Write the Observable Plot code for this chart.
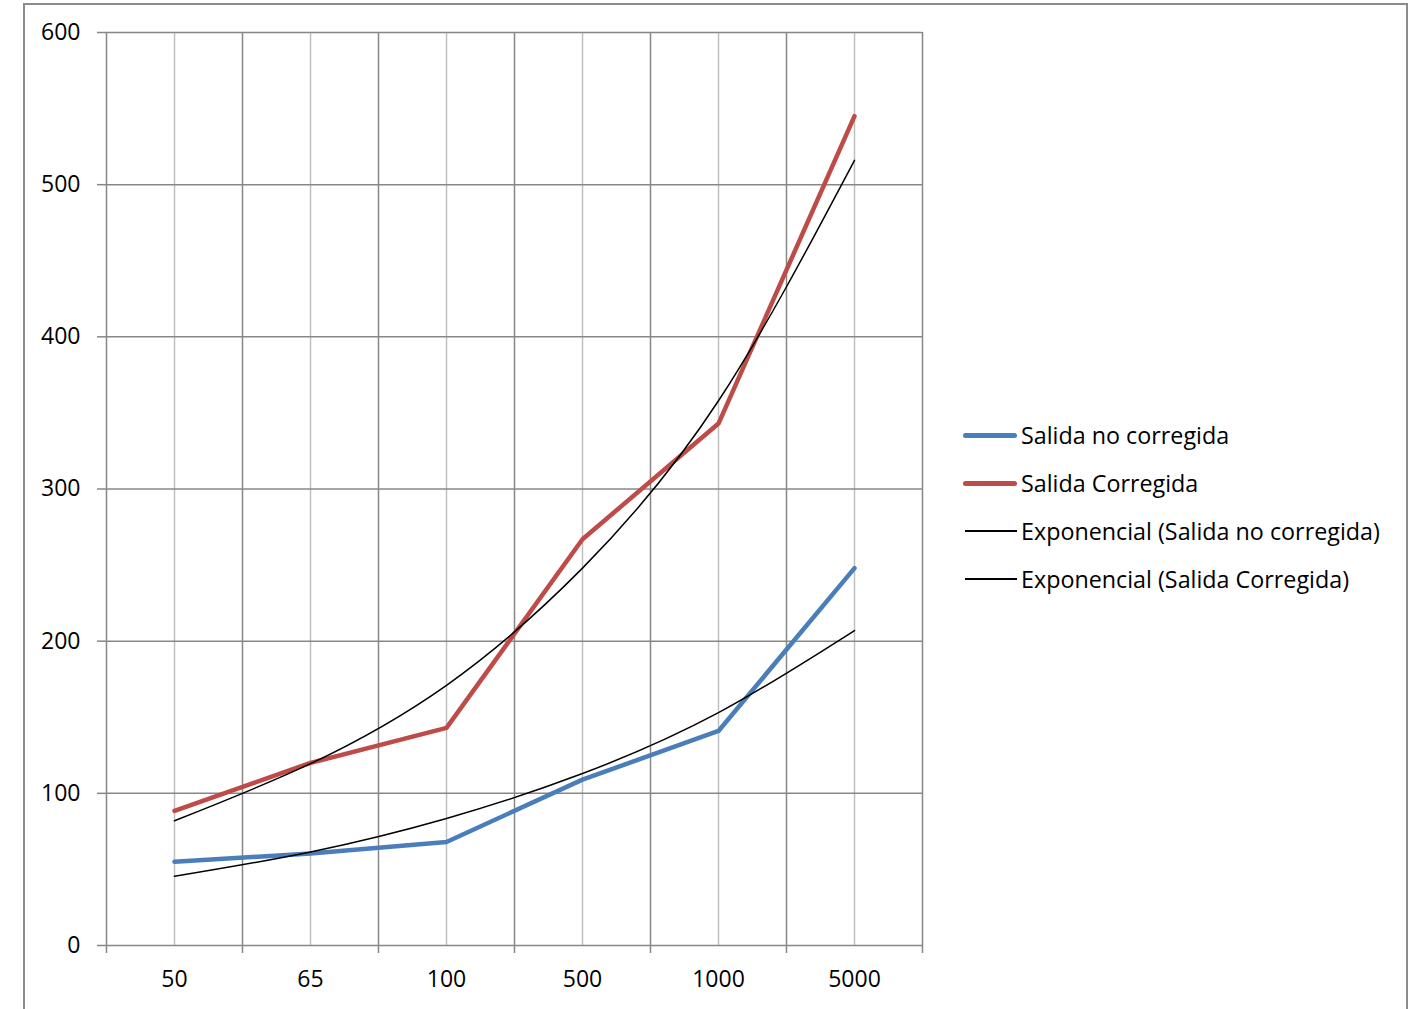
<!DOCTYPE html>
<html>
<head>
<meta charset="utf-8">
<script src="https://cdn.jsdelivr.net/npm/d3@7"></script>
<script src="https://cdn.jsdelivr.net/npm/@observablehq/plot@0.6"></script>
<style>
  html, body { margin: 0; padding: 0; background: #fff; overflow: hidden; }
  #wrap { position: relative; width: 1415px; height: 1009px; font-family: "Open Sans", sans-serif; }
  #frame { position: absolute; left: 23px; top: 3px; width: 1385px; height: 1100px; border: 2px solid #8c8c8c; box-sizing: border-box; }
  #chart { position: absolute; left: 0; top: 0; }
  #legend { position: absolute; left: 963px; top: 0; }
  .item { position: absolute; left: 0; height: 30px; white-space: nowrap; font-size: 23.3px; color: #000; }
  .sw { position: absolute; left: 0; width: 54px; }
  .lbl { position: absolute; left: 58px; top: 0; line-height: 30px; }
</style>
</head>
<body>
<div id="wrap">
  <div id="frame"></div>
  <div id="chart"></div>
  <div id="legend"></div>
</div>
<script>
const categories = ["50", "65", "100", "500", "1000", "5000"];
const salidaNoCorregida = [55, 60.5, 68, 109, 141, 248];
const salidaCorregida = [88.5, 120, 143, 267, 343, 545];
const expNoCorregida = [45.5, 61.5, 83.5, 113, 153, 207];
const expCorregida = [82, 119.5, 171, 248, 358, 516];
const yTicks = [0, 100, 200, 300, 400, 500, 600];

const seriesNames = ["Salida no corregida", "Salida Corregida", "Exponencial (Salida no corregida)", "Exponencial (Salida Corregida)"];
const colors = ["#4a7ebb", "#be4b48", "#000000", "#000000"];

const idx = categories.map((c, i) => i);
const boundaries = d3.range(categories.length + 1).map(i => i - 0.5);
const rows = (vals) => vals.map((v, i) => ({i, v}));

const font = "'Open Sans', sans-serif";

const chart = Plot.plot({
  width: 1415,
  height: 1009,
  marginLeft: 106,
  marginRight: 493,
  marginTop: 32,
  marginBottom: 64,
  style: {fontFamily: font, fontSize: "23px", color: "#000", background: "transparent", overflow: "visible"},
  x: {domain: [-0.5, categories.length - 0.5]},
  y: {domain: [0, 600]},
  marks: [
    Plot.gridX(idx, {stroke: "#c0c0c0", strokeOpacity: 1, strokeWidth: 1.5}),
    Plot.gridX(boundaries, {stroke: "#878787", strokeOpacity: 1, strokeWidth: 1.5}),
    Plot.gridY(yTicks, {stroke: "#878787", strokeOpacity: 1, strokeWidth: 1.5}),
    Plot.axisY({ticks: yTicks, tickSize: 9, tickPadding: 17, stroke: "#878787", strokeWidth: 1.5, label: null, fill: "#000"}),
    Plot.axisX({ticks: boundaries, tickSize: 8, tickFormat: () => "", stroke: "#878787", strokeWidth: 1.5, label: null}),
    Plot.axisX({ticks: idx, tickSize: 0, tickPadding: 25, tickFormat: i => categories[i], label: null, fill: "#000"}),
    Plot.line(rows(salidaNoCorregida), {x: "i", y: "v", stroke: colors[0], strokeWidth: 4.5, strokeLinejoin: "round", strokeLinecap: "round"}),
    Plot.line(rows(salidaCorregida), {x: "i", y: "v", stroke: colors[1], strokeWidth: 4.5, strokeLinejoin: "round", strokeLinecap: "round"}),
    Plot.line(rows(expNoCorregida), {x: "i", y: "v", stroke: colors[2], strokeWidth: 1.5, curve: "natural"}),
    Plot.line(rows(expCorregida), {x: "i", y: "v", stroke: colors[3], strokeWidth: 1.5, curve: "natural"})
  ]
});
document.getElementById("chart").appendChild(chart);

const legend = document.getElementById("legend");
const centers = [435, 483, 531, 579];
seriesNames.forEach((name, k) => {
  const item = document.createElement("div");
  item.className = "item";
  item.style.top = (centers[k] - 15) + "px";
  const sw = document.createElement("div");
  sw.className = "sw";
  const thick = k < 2 ? 5 : 1.5;
  sw.style.height = thick + "px";
  sw.style.top = (15 - thick / 2) + "px";
  sw.style.background = colors[k];
  sw.style.borderRadius = k < 2 ? "3px" : "0";
  if (k >= 2) { sw.style.left = "2px"; sw.style.width = "52px"; }
  const lbl = document.createElement("div");
  lbl.className = "lbl";
  lbl.textContent = name;
  item.appendChild(sw);
  item.appendChild(lbl);
  legend.appendChild(item);
});
</script>
</body>
</html>
